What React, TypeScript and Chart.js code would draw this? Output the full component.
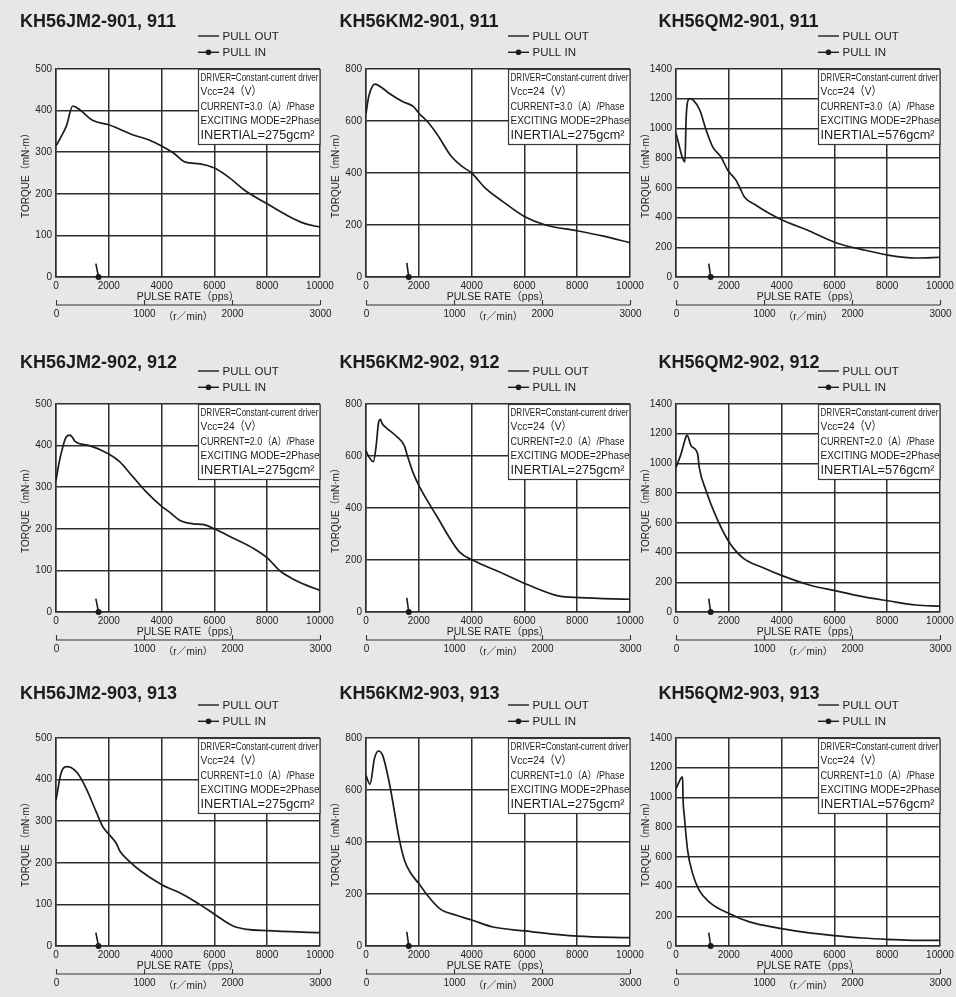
import React, { useEffect, useRef } from 'react';
import { Chart, registerables } from 'chart.js';

Chart.register(...registerables);

const FONT = "'Liberation Sans', Arial, Helvetica, 'Noto Sans CJK JP', sans-serif";
Chart.defaults.font.family = FONT;

// ---------- axis ticks ----------
const X_TICKS = [0, 2000, 4000, 6000, 8000, 10000];
const RPM_TICKS = [0, 1000, 2000, 3000];
const STEPS_PER_REV = 200; // 1.8 deg, 2-phase
const Y_TICKS_J = [0, 100, 200, 300, 400, 500];
const Y_TICKS_K = [0, 200, 400, 600, 800];
const Y_TICKS_Q = [0, 200, 400, 600, 800, 1000, 1200, 1400];

// ---------- pull-out curves ----------
const J901_PPS = [0, 200, 400, 630, 900, 1400, 2000, 2900, 3500, 4000, 4450, 4900, 5450, 6000, 6500, 7200, 8000, 8700, 9400, 10000];
const J901_TQ = [315, 338, 364, 411, 402, 376, 366, 342, 330, 315, 298, 276, 272, 262, 242, 206, 176, 150, 129, 120];

const K901_PPS = [0, 100, 250, 350, 550, 900, 1400, 1800, 2000, 2300, 2700, 3200, 3600, 4000, 4500, 5200, 6000, 6800, 8000, 9000, 10000];
const K901_TQ = [629, 693, 735, 742, 732, 705, 674, 655, 630, 601, 548, 468, 428, 400, 344, 289, 233, 200, 178, 157, 132];

const Q901_PPS = [0, 340, 380, 430, 520, 650, 900, 1140, 1390, 1700, 1960, 2270, 2460, 2590, 3030, 3540, 4040, 5050, 6060, 7070, 8080, 9090, 10000];
const Q901_TQ = [966, 775, 1050, 1170, 1200, 1190, 1124, 989, 876, 809, 719, 652, 584, 539, 483, 427, 382, 310, 231, 184, 146, 128, 133];

const J902_PPS = [0, 120, 250, 380, 530, 640, 720, 1270, 2000, 2400, 2900, 3400, 4000, 4300, 4700, 5200, 5600, 6000, 6700, 7500, 8000, 8500, 8900, 9500, 10000];
const J902_TQ = [316, 360, 395, 420, 425, 418, 410, 400, 380, 362, 326, 290, 254, 240, 220, 212, 210, 200, 178, 152, 130, 98, 82, 64, 52];

const K902_PPS = [0, 130, 280, 380, 470, 545, 610, 760, 1140, 1460, 1550, 1770, 2030, 2660, 3540, 4050, 5060, 6080, 7280, 8100, 10000];
const K902_TQ = [620, 593, 578, 635, 725, 741, 725, 709, 677, 638, 607, 539, 481, 372, 231, 199, 154, 107, 62, 55, 49];

const Q902_PPS = [0, 190, 380, 420, 570, 820, 880, 1140, 1450, 1960, 2520, 3280, 4040, 5050, 6060, 7070, 8080, 9090, 10000];
const Q902_TQ = [973, 1063, 1180, 1191, 1119, 1063, 973, 816, 670, 485, 366, 299, 243, 182, 142, 103, 74, 47, 40];

const J903_PPS = [0, 190, 380, 570, 820, 1140, 1520, 1770, 2030, 2280, 2430, 2720, 3170, 3990, 4810, 5440, 5990, 6710, 7220, 7980, 10000];
const J903_TQ = [350, 415, 431, 429, 415, 379, 323, 287, 267, 247, 227, 207, 182, 148, 124, 100, 77, 48, 40, 37, 32];

const K903_PPS = [0, 150, 320, 470, 630, 890, 1270, 1460, 1710, 2000, 2280, 2790, 3420, 4030, 4810, 6010, 8010, 10000];
const K903_TQ = [656, 622, 721, 750, 733, 624, 406, 329, 278, 240, 201, 144, 118, 99, 73, 58, 38, 32];

const Q903_PPS = [0, 250, 265, 320, 440, 630, 880, 1260, 2010, 2780, 4000, 5050, 6010, 7070, 8000, 9090, 10000];
const Q903_TQ = [1059, 1138, 1003, 868, 644, 487, 375, 296, 218, 162, 117, 88, 70, 54, 45, 38, 38];

// ---------- pull-in marks ----------
const PULLIN_J_PPS = [1510, 1610];
const PULLIN_J_TQ = [32, 0];
const PULLIN_K_PPS = [1545, 1620];
const PULLIN_K_TQ = [54, 0];
const PULLIN_Q_PPS = [1240, 1315];
const PULLIN_Q_TQ = [90, 0];

// ---------- labels ----------
const TITLES = [
  ['KH56JM2-901, 911', 'KH56KM2-901, 911', 'KH56QM2-901, 911'],
  ['KH56JM2-902, 912', 'KH56KM2-902, 912', 'KH56QM2-902, 912'],
  ['KH56JM2-903, 913', 'KH56KM2-903, 913', 'KH56QM2-903, 913'],
];
const CURRENTS = ['3.0', '2.0', '1.0'];
const INERTIAS = ['275', '275', '576'];
const SERIES_LABELS = ['PULL OUT', 'PULL IN'];

const CURVES = [
  [[J901_PPS, J901_TQ], [K901_PPS, K901_TQ], [Q901_PPS, Q901_TQ]],
  [[J902_PPS, J902_TQ], [K902_PPS, K902_TQ], [Q902_PPS, Q902_TQ]],
  [[J903_PPS, J903_TQ], [K903_PPS, K903_TQ], [Q903_PPS, Q903_TQ]],
];
const PULLINS = [[PULLIN_J_PPS, PULLIN_J_TQ], [PULLIN_K_PPS, PULLIN_K_TQ], [PULLIN_Q_PPS, PULLIN_Q_TQ]];
const Y_TICKS = [Y_TICKS_J, Y_TICKS_K, Y_TICKS_Q];

// ---------- layout ----------
const PLOT_LEFT = [56, 366, 676];
const PLOT_TOP = [69, 404, 738];
const PLOT_W = 264;
const PLOT_H = 208;
const Y_AXIS_W = 56;
const PAD_TOP = 70;
const PAD_RIGHT = 20;
const X_AXIS_H = 26;
const PAD_BOTTOM = 28;
const CANVAS_W = Y_AXIS_W + PLOT_W + PAD_RIGHT;
const CANVAS_H = PAD_TOP + PLOT_H + X_AXIS_H + PAD_BOTTOM;
const TITLE_DX = [-36, -26.5, -17.5];
const TITLE_DY = [-41.7, -36, -39];

const INK = '#1c1c1c';
const GRID = '#2e2e2e';
const BG = '#e6e7e8';

const INFO_FONT = [10, 11.5, 10.5, 10.5, 12.5];
const INFO_W = [118, 61, 114, 119, 114];
const INFO_DY = [9.5, 23, 37.7, 52, 66.5];

function fitText(ctx: CanvasRenderingContext2D, text: string, x: number, y: number, font: string, width: number) {
  ctx.save();
  ctx.font = font;
  const w = ctx.measureText(text).width;
  const s = w > 0 ? width / w : 1;
  ctx.translate(x, y);
  ctx.scale(s, 1);
  ctx.fillText(text, 0, 0);
  ctx.restore();
}

const plainNumber = (v: any) => String(v);

const decorPlugin = {
  id: 'decor',
  beforeDraw(chart: any) {
    const { ctx, chartArea: a } = chart;
    ctx.save();
    ctx.fillStyle = '#ffffff';
    ctx.fillRect(a.left, a.top, a.right - a.left, a.bottom - a.top);
    ctx.restore();
  },
  afterDraw(chart: any, _args: any, opts: any) {
    const { ctx, chartArea: a } = chart;
    const xs = chart.scales.x;
    ctx.save();
    ctx.fillStyle = INK;
    ctx.strokeStyle = INK;

    // title
    ctx.font = `bold 18px ${FONT}`;
    ctx.textAlign = 'left';
    ctx.textBaseline = 'alphabetic';
    ctx.fillText(opts.title, a.left + opts.titleDx, a.top + opts.titleDy);

    // legend
    const ds = chart.data.datasets;
    const lx0 = a.left + 142;
    const lx1 = a.left + 163;
    const ly = [a.top - 33, a.top - 16.7];
    ctx.font = `11.5px ${FONT}`;
    ctx.textBaseline = 'middle';
    ctx.lineWidth = 1.4;
    for (let i = 0; i < 2; i++) {
      ctx.beginPath();
      ctx.moveTo(lx0, ly[i]);
      ctx.lineTo(lx1, ly[i]);
      ctx.stroke();
      if (i === 1) {
        ctx.beginPath();
        ctx.arc((lx0 + lx1) / 2, ly[i], 2.8, 0, Math.PI * 2);
        ctx.fill();
      }
      ctx.fillText(ds[i].label, a.left + 166.5, ly[i] + 0.5);
    }

    // info box
    const bx = a.right - 122;
    const by = a.top;
    ctx.fillStyle = '#ffffff';
    ctx.fillRect(bx, by, a.right - bx, 75);
    ctx.strokeStyle = '#3a3a3a';
    ctx.lineWidth = 1.2;
    ctx.strokeRect(bx + 0.5, by + 0.5, a.right - bx - 0.5, 75);
    ctx.fillStyle = INK;
    ctx.textBaseline = 'middle';
    const lines: string[] = opts.info;
    lines.forEach((t, i) => {
      fitText(ctx, t, bx + 2.5, by + INFO_DY[i], `${INFO_FONT[i]}px ${FONT}`, INFO_W[i]);
    });

    // secondary r/min axis
    const y2 = a.bottom + 28;
    ctx.strokeStyle = '#333';
    ctx.lineWidth = 1.1;
    ctx.beginPath();
    ctx.moveTo(a.left, y2);
    ctx.lineTo(a.right, y2);
    ctx.stroke();
    ctx.font = `10px ${FONT}`;
    ctx.textAlign = 'center';
    ctx.fillStyle = '#222';
    for (const rpm of RPM_TICKS) {
      const px = Math.round(xs.getPixelForValue((rpm * STEPS_PER_REV) / 60)) + 0.5;
      ctx.beginPath();
      ctx.moveTo(px, y2);
      ctx.lineTo(px, y2 - 5);
      ctx.stroke();
      ctx.fillText(String(rpm), px, y2 + 9);
    }
    ctx.fillText('（r／min）', (a.left + a.right) / 2, y2 + 12);
    ctx.restore();
  },
};

function Panel({ row, col }: { row: number; col: number }) {
  const ref = useRef<HTMLCanvasElement | null>(null);
  useEffect(() => {
    const [pps, tq] = CURVES[row][col];
    const [pinX, pinY] = PULLINS[col];
    const yTicks = Y_TICKS[col];
    const chart = new Chart(ref.current as HTMLCanvasElement, {
      type: 'line',
      data: {
        datasets: [
          {
            label: SERIES_LABELS[0],
            data: pps.map((x, i) => ({ x, y: tq[i] })),
            borderColor: INK,
            borderWidth: 1.7,
            pointRadius: 0,
            cubicInterpolationMode: 'monotone',
            fill: false,
          },
          {
            label: SERIES_LABELS[1],
            data: pinX.map((x, i) => ({ x, y: pinY[i] })),
            borderColor: INK,
            backgroundColor: INK,
            borderWidth: 1.6,
            pointRadius: [0, 3],
            pointBorderWidth: 0,
            pointBackgroundColor: INK,
            clip: false,
            fill: false,
          },
        ],
      } as any,
      options: {
        animation: false,
        responsive: false,
        events: [],
        layout: { padding: { top: PAD_TOP, right: PAD_RIGHT, bottom: PAD_BOTTOM, left: 0 } },
        plugins: {
          legend: { display: false },
          tooltip: { enabled: false },
          decor: {
            title: TITLES[row][col],
            titleDx: TITLE_DX[col],
            titleDy: TITLE_DY[row],
            info: [
              'DRIVER=Constant-current driver',
              'Vcc=24（V）',
              `CURRENT=${CURRENTS[row]}（A）/Phase`,
              'EXCITING MODE=2Phase',
              `INERTIAL=${INERTIAS[col]}gcm²`,
            ],
          },
        } as any,
        scales: {
          x: {
            type: 'linear',
            min: X_TICKS[0],
            max: X_TICKS[X_TICKS.length - 1],
            afterBuildTicks: (s: any) => {
              s.ticks = X_TICKS.map((v) => ({ value: v }));
            },
            afterFit: (s: any) => {
              s.height = X_AXIS_H;
            },
            ticks: { autoSkip: false, maxRotation: 0, padding: 3, color: '#222', font: { size: 10 }, callback: plainNumber },
            grid: { color: GRID, lineWidth: 1.5, drawTicks: false },
            border: { color: GRID, width: 1.5 },
            title: { display: true, text: 'PULSE RATE（pps）', color: '#222', font: { size: 10.5 }, padding: 0 },
          },
          y: {
            type: 'linear',
            min: yTicks[0],
            max: yTicks[yTicks.length - 1],
            afterBuildTicks: (s: any) => {
              s.ticks = yTicks.map((v) => ({ value: v }));
            },
            afterFit: (s: any) => {
              s.width = Y_AXIS_W;
            },
            ticks: { autoSkip: false, padding: 4, color: '#222', font: { size: 10 }, callback: plainNumber },
            grid: { color: GRID, lineWidth: 1.5, drawTicks: false },
            border: { color: GRID, width: 1.5 },
            title: { display: true, text: 'TORQUE（mN·m）', color: '#222', font: { size: 10 }, padding: { top: 20, bottom: 0 } },
          },
        },
      } as any,
      plugins: [decorPlugin as any],
    });
    return () => chart.destroy();
  }, [row, col]);

  return (
    <div
      style={{
        position: 'absolute',
        left: PLOT_LEFT[col] - Y_AXIS_W,
        top: PLOT_TOP[row] - PAD_TOP,
        width: CANVAS_W,
        height: CANVAS_H,
      }}
    >
      <canvas ref={ref} width={CANVAS_W} height={CANVAS_H} style={{ width: CANVAS_W, height: CANVAS_H, display: 'block' }} />
    </div>
  );
}

export default function App() {
  const cells: JSX.Element[] = [];
  for (let r = 0; r < 3; r++) {
    for (let c = 0; c < 3; c++) {
      cells.push(<Panel key={`${r}-${c}`} row={r} col={c} />);
    }
  }
  return (
    <div
      style={{
        position: 'absolute',
        left: 0,
        top: 0,
        width: 956,
        height: 997,
        background: BG,
        overflow: 'hidden',
        fontFamily: FONT,
      }}
    >
      {cells}
    </div>
  );
}
